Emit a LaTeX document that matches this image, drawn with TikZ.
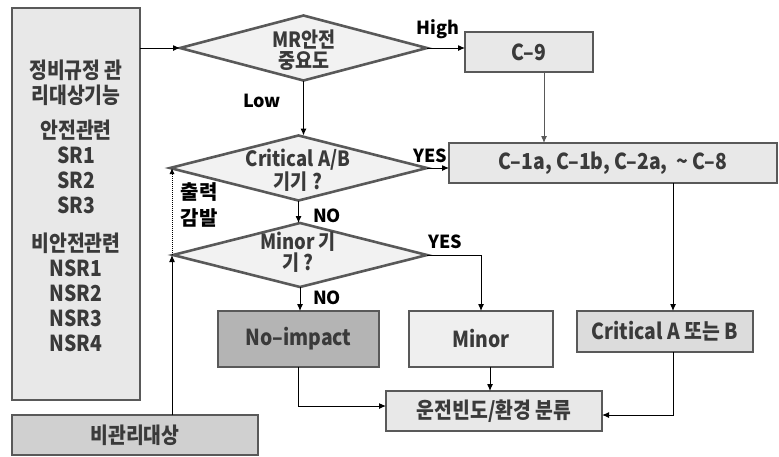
\documentclass[tikz,border=0pt]{standalone}
\usepackage{fontspec}
\setmainfont{Noto Sans CJK KR}
\newfontfamily\boxfont[FakeStretch=0.88]{Noto Sans CJK KR}
\usetikzlibrary{shapes.geometric,arrows.meta,calc}
\definecolor{bordc}{HTML}{595959}
\definecolor{txtc}{HTML}{3A3A3A}
\definecolor{fillA}{HTML}{E8E8E8}
\definecolor{fillD}{HTML}{F2F2F2}
\definecolor{fillN}{HTML}{B4B4B4}
\definecolor{fillM}{HTML}{D0D0D0}
\definecolor{fillC}{HTML}{DCDCDC}
\tikzset{
  boxst/.style={draw=bordc, line width=2.6pt, fill=fillA, inner sep=0pt, outer sep=0pt,
     font=\boxfont\bfseries\fontsize{22}{24}\selectfont, text=txtc, align=center},
  decst/.style={diamond, draw=bordc, line width=2.6pt, fill=fillD, inner sep=0pt, outer sep=0pt},
  dtext/.style={font=\boxfont\bfseries\fontsize{21}{20.5}\selectfont, text=txtc, align=center, inner sep=0pt},
  lblst/.style={font=\bfseries\fontsize{18}{22}\selectfont, text=black, inner sep=0pt, align=center},
  conn/.style={line width=1pt, draw=black, -{Latex[length=7pt,width=6pt]}},
}
\begin{document}
\begin{tikzpicture}[x=1pt,y=-1pt]
\useasboundingbox (0,0) rectangle (779,456);
% left big box
\node[boxst, minimum width=128pt, minimum height=392pt] (lbox) at (76,204) {};
\node[font=\boxfont\bfseries\fontsize{22}{25}\selectfont, text=txtc, align=center, inner sep=0pt] (ltext) at (76,206)
 {정비규정 관\\리대상기능\\[10pt]안전관련\\SR1\\SR2\\SR3\\[13pt]비안전관련\\NSR1\\NSR2\\NSR3\\NSR4};
\node[boxst, fill=fillM, minimum width=246pt, minimum height=40pt] (nm) at (135,435) {비관리대상};
% diamonds
\node[decst, minimum width=247pt, minimum height=65pt] (d1) at (303.5,48) {};
\node[dtext] (t1) at (304,50) {MR안전\\중요도};
\node[decst, minimum width=257pt, minimum height=65pt] (d2) at (298.5,168) {};
\node[dtext] (t2) at (298,170) {Critical A/B\\기기 ?};
\node[decst, minimum width=254pt, minimum height=64pt] (d3) at (300,255) {};
\node[dtext, font=\boxfont\bfseries\fontsize{21}{15}\selectfont] (t3) at (298,252) {Minor 기\\기 ?};
% boxes
\node[boxst, minimum width=128pt, minimum height=40pt] (c9) at (529,52) {C–9};
\node[boxst, minimum width=328pt, minimum height=40pt] (c1) at (613,163) {C–1a, C–1b, C–2a,\ \ \textasciitilde\ C–8};
\node[boxst, fill=fillN, minimum width=161pt, minimum height=56pt] (nimp) at (298.5,339) {No–impact};
\node[boxst, fill=fillA!70!white, minimum width=144pt, minimum height=56pt] (minor) at (481,339) {Minor};
\node[boxst, fill=fillC, minimum width=176pt, minimum height=41pt] (crit) at (665,331.5) {Critical A 또는 B};
\node[boxst, minimum width=216pt, minimum height=40pt] (run) at (494,411) {운전빈도/환경 분류};
% connectors
\draw[conn] (lbox.east |- d1.west) -- (d1.west);
\draw[conn] (d1.east) -- (d1.east -| c9.west);
\draw[conn] (d1.south) -- (d1.south |- d2.north);
\draw[conn, draw=bordc] ([xshift=15pt]c9.south) -- ([xshift=15pt]c9.south |- c1.north);
\draw[conn] (d2.east) -- (d2.east -| c1.west);
\draw[conn] (d2.south) -- (d2.south |- d3.north);
\draw[conn] (d3.south) -- (d3.south |- nimp.north);
\draw[conn] (d3.east) -| (minor.north);
\draw[conn] ([xshift=8pt]crit.north |- c1.south) -- ([xshift=8pt]crit.north);
\draw[conn] ([xshift=-4pt]run.north |- minor.south) -- ([xshift=-4pt]run.north);
\draw[conn] (nimp.south) |- ([yshift=5pt]run.west);
\draw[conn] ([xshift=8pt]crit.south) |- ([yshift=-4pt]run.east);
\coordinate (up3) at (nm.north -| d3.west);
\draw[conn] ([xshift=-1pt]up3) -- ([xshift=-1pt]d3.west);
\draw[conn, densely dotted, -{Latex[length=6pt,width=5pt]}] ([xshift=-1pt]d3.west) -- ([xshift=-1pt]d3.west |- d2.west);
% labels
\node[lblst] (lLow) at (262,101) {Low};
\node[lblst] (lHigh) at (438,29) {High};
\node[lblst] (lYes1) at (430,156) {YES};
\node[lblst] (lYes2) at (445,242) {YES};
\node[lblst] (lNo1) at (327,216) {NO};
\node[lblst] (lNo2) at (327,298) {NO};
\node[lblst, font=\bfseries\fontsize{20}{26}\selectfont] (lout) at (199,205) {출력\\감발};
\end{tikzpicture}
\end{document}
